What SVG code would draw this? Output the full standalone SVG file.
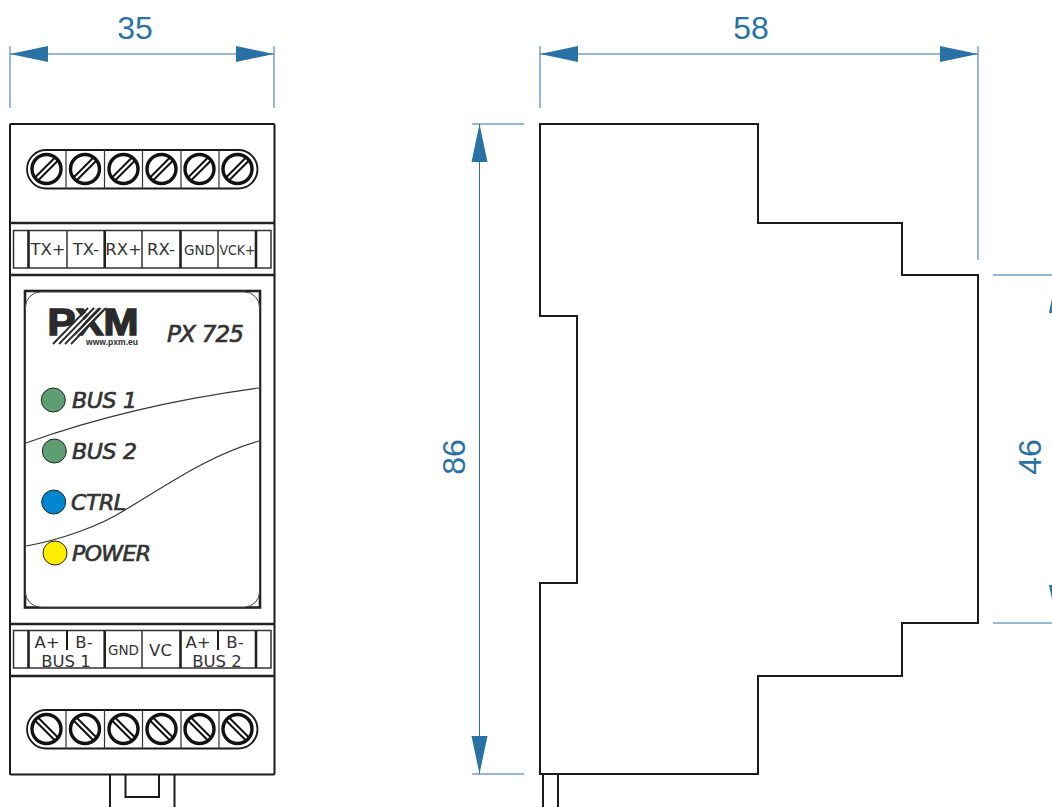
<svg xmlns="http://www.w3.org/2000/svg" width="1052" height="807" viewBox="0 0 1052 807">
<style>
.k{fill:none;stroke:#1a1a1a;stroke-width:2}
.t{fill:none;stroke:#222;stroke-width:2.6}
.n{fill:none;stroke:#333;stroke-width:1.2}
.d{fill:none;stroke:#2a72a5;stroke-width:1}
.a{fill:#2a72a5}
.dim{font-family:"Liberation Sans",Arial,sans-serif;font-size:32px;fill:#2a72a5;text-anchor:middle}
.lb{font-family:"DejaVu Sans",sans-serif;font-size:16.5px;fill:#333;text-anchor:middle}
.sm{font-size:13.5px}
.led{font-family:"DejaVu Sans",sans-serif;font-style:italic;font-size:22px;fill:#333;stroke:#333;stroke-width:.7}
.logo{font-family:"Liberation Sans",Arial,sans-serif;font-weight:bold;fill:#2b2b2b;stroke:#2b2b2b;stroke-width:1.500}
.ledc{stroke:#222;stroke-width:1}
</style>
<defs>
<g id="screwA"><circle r="14.500" fill="none" stroke="#111" stroke-width="3.400"/><path d="M-12 9 L9 -12 M-9 12 L12 -9" fill="none" stroke="#111" stroke-width="2"/></g>
<g id="screwB"><circle r="14.500" fill="none" stroke="#111" stroke-width="3.400"/><path d="M-12 -9 L9 12 M-9 -12 L12 9" fill="none" stroke="#111" stroke-width="2"/></g>
</defs>

<g id="front-body">
<rect class="k" x="10" y="124" width="264.500" height="650.500" rx="1"/>
<path class="t" d="M10 223H274.500M10 275H274.500M10 624H274.500M10 676H274.500"/>
<path class="k" d="M110 775V807M174.500 775V807M125.500 775V797H159V775"/>
</g>

<g id="top-screws">
<rect x="27" y="150" width="230.500" height="38.500" rx="19.250" fill="none" stroke="#1a1a1a" stroke-width="1.800"/>
<path class="n" d="M66 150V188.500M104.500 150V188.500M142.500 150V188.500M181 150V188.500M219 150V188.500" stroke-width="1.500"/>
<use href="#screwA" x="46.500" y="169"/><use href="#screwA" x="85" y="169"/><use href="#screwA" x="123.500" y="169"/><use href="#screwA" x="161.500" y="169"/><use href="#screwA" x="199.500" y="169"/><use href="#screwA" x="237.500" y="169"/>
</g>

<g id="top-terminals">
<rect class="n" x="13.500" y="230.500" width="257.500" height="37.500" style="stroke-width:1.500"/>
<path class="t" d="M28.500 230.500V268M104.700 230.500V268M180.500 230.500V268M256 230.500V268"/>
<path class="n" d="M67 230.500V268M142 230.500V268M218 230.500V268" style="stroke-width:1.500"/>
<text class="lb" x="48" y="255">TX+</text>
<text class="lb" x="86" y="255">TX-</text>
<text class="lb" x="123.500" y="255">RX+</text>
<text class="lb" x="161" y="255">RX-</text>
<text class="lb sm" x="199.500" y="254.500">GND</text>
<text class="lb sm" x="237.500" y="254.500" textLength="36" lengthAdjust="spacingAndGlyphs">VCK+</text>
</g>

<g id="panel">
<rect class="t" x="25" y="291" width="235" height="316.500"/>
<rect x="25.500" y="292" width="234" height="315" rx="15" fill="#fff" stroke="#444" stroke-width="1"/>
<path class="n" d="M26 443C90 420 170 400 259 388"/>
<path class="n" d="M26 546C60 540 100 526 125 510C170 483 210 455 259 441"/>
</g>

<g id="logo">
<text class="logo" x="47.500" y="335" font-size="37" textLength="91" lengthAdjust="spacingAndGlyphs">PXM</text>
<path d="M53 344L88 308M59 344L94 308M65 344L100 308M71 344L106 308" fill="none" stroke="#2b2b2b" stroke-width="1.800"/>
<path d="M56 344L91 308M62 344L97 308M68 344L103 308" fill="none" stroke="#fff" stroke-width="1.500"/>
<text x="86" y="344.500" font-family="Liberation Sans, Arial, sans-serif" font-weight="bold" font-size="8.500" fill="#2b2b2b" textLength="52">www.pxm.eu</text>
</g>

<text id="model" class="led" x="167" y="342" style="font-size:23px" textLength="77">PX 725</text>

<g id="led-bus1"><circle class="ledc" cx="53.300" cy="400" r="12" fill="#5f9e73"/><text class="led" x="72" y="408" textLength="65">BUS 1</text></g>
<g id="led-bus2"><circle class="ledc" cx="54.300" cy="451" r="12" fill="#5f9e73"/><text class="led" x="72" y="459" textLength="65">BUS 2</text></g>
<g id="led-ctrl"><circle class="ledc" cx="53.700" cy="502" r="12" fill="#0085cf"/><text class="led" x="71" y="510" textLength="55">CTRL</text></g>
<g id="led-power"><circle class="ledc" cx="55" cy="553" r="12" fill="#ffed00"/><text class="led" x="72" y="561" textLength="79">POWER</text></g>

<g id="bottom-terminals">
<rect class="n" x="13.500" y="630.500" width="257.500" height="37.500" style="stroke-width:1.500"/>
<path class="t" d="M28.500 630.500V668M104.700 630.500V668M180.500 630.500V668M256 630.500V668"/>
<path class="n" d="M142 630.500V668" style="stroke-width:1.500"/>
<path class="k" d="M67 630.500V650M218 630.500V650"/>
<text class="lb" x="47" y="648">A+</text>
<text class="lb" x="84" y="648">B-</text>
<text class="lb" x="66" y="667">BUS 1</text>
<text class="lb sm" x="123.500" y="655">GND</text>
<text class="lb" x="160.500" y="656">VC</text>
<text class="lb" x="198" y="648">A+</text>
<text class="lb" x="235" y="648">B-</text>
<text class="lb" x="217" y="667">BUS 2</text>
</g>

<g id="bottom-screws">
<rect x="27" y="710" width="230.500" height="38.500" rx="19.250" fill="none" stroke="#1a1a1a" stroke-width="1.800"/>
<path class="n" d="M66 710V748.500M104.500 710V748.500M142.500 710V748.500M181 710V748.500M219 710V748.500" stroke-width="1.500"/>
<use href="#screwB" x="46.500" y="729"/><use href="#screwB" x="85" y="729"/><use href="#screwB" x="123.500" y="729"/><use href="#screwB" x="161.500" y="729"/><use href="#screwB" x="199.500" y="729"/><use href="#screwB" x="237.500" y="729"/>
</g>

<g id="side-view">
<path class="k" d="M540 124H758V223H902V275H978V623H902V676H758V774H540V583H577V316H540Z"/>
<path class="k" d="M543 774V807M558 774V807"/>
</g>

<g id="connectors">
<path class="d" d="M10 46V108M274 46V108M10 54H274"/>
<path class="a" d="M10 54L48 46V62ZM274 54L236 46V62Z"/>
<path class="d" d="M540 46V108M978 46V260M540 54H978"/>
<path class="a" d="M540 54L578 46V62ZM978 54L940 46V62Z"/>
<path class="d" d="M472 124H524M472 774H524M479.500 124V774"/>
<path class="a" d="M479.500 124L471.500 162H487.500ZM479.500 774L471.500 736H487.500Z"/>
<path class="d" d="M993 275H1052M993 623H1052"/>
<path class="a" d="M1057 275L1049 313H1065ZM1057 623L1049 585H1065Z"/>
</g>

<g id="dim-labels">
<text class="dim" x="135" y="39">35</text>
<text class="dim" x="751" y="39">58</text>
<text class="dim" transform="translate(465 457) rotate(-90)">86</text>
<text class="dim" transform="translate(1041 457) rotate(-90)">46</text>
</g>
</svg>
